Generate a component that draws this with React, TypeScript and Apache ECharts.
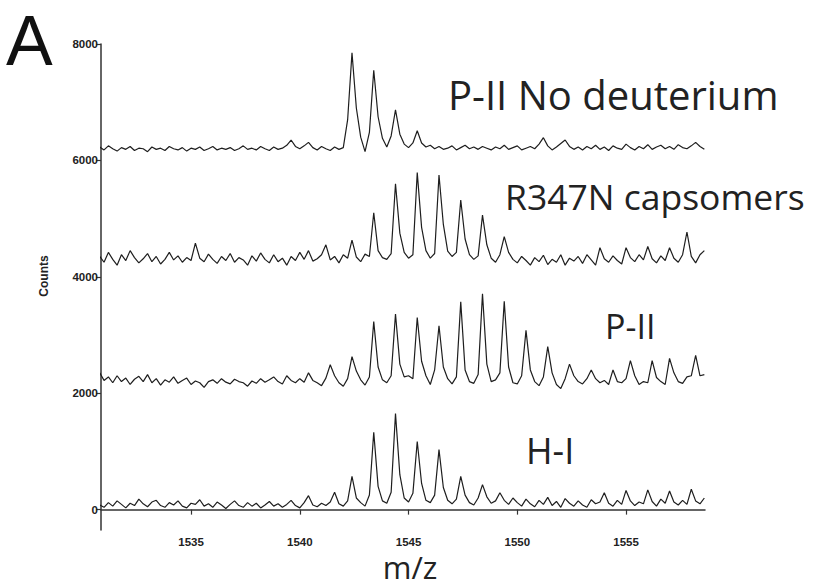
import React, { useEffect, useRef } from "react";
import * as echarts from "echarts";

const MZ_START = 1530.8;
const MZ_STEP = 0.2;

const noDeuterium = [
  6230, 6180, 6250, 6200, 6160, 6220, 6190, 6240, 6170, 6210,
  6200, 6150, 6230, 6190, 6210, 6170, 6240, 6200, 6180, 6220,
  6160, 6210, 6190, 6230, 6170, 6200, 6240, 6180, 6210, 6190,
  6220, 6170, 6200, 6250, 6190, 6210, 6180, 6240, 6200, 6170,
  6230, 6190, 6210, 6260, 6350, 6240, 6200, 6250, 6310, 6220,
  6180, 6240, 6200, 6170, 6230, 6190, 6220, 6700, 7850, 6900,
  6400, 6150, 6480, 7550, 6750, 6380, 6230, 6420, 6870, 6450,
  6280, 6220, 6300, 6510, 6300, 6230, 6260, 6200, 6240, 6190,
  6210, 6250, 6180, 6220, 6260, 6200, 6230, 6190, 6240, 6210,
  6180, 6230, 6200, 6260, 6190, 6220, 6250, 6180, 6210, 6240,
  6200, 6280, 6390, 6250, 6180, 6230, 6290, 6350, 6240, 6190,
  6230, 6180, 6240, 6200, 6260, 6190, 6230, 6170, 6250, 6210,
  6190, 6280, 6220, 6180, 6240, 6200, 6270, 6190, 6230, 6260,
  6200, 6240, 6190, 6270, 6220, 6200, 6250, 6310, 6240, 6190,
];

const r347n = [
  4350, 4250, 4420, 4300, 4200, 4380, 4280, 4450, 4330, 4240,
  4310, 4400, 4260, 4350, 4220, 4300, 4420, 4290, 4360, 4250,
  4330, 4280, 4580, 4320, 4260, 4390, 4300, 4230, 4350, 4280,
  4400, 4250, 4330, 4290, 4200, 4360, 4270, 4410, 4300, 4240,
  4380, 4260, 4320, 4200, 4350, 4280, 4420, 4300, 4450, 4270,
  4310, 4380, 4550, 4290, 4350, 4240, 4380, 4320, 4630, 4340,
  4260, 4390, 4350, 5100, 4450, 4330, 4300, 4400, 5600, 4750,
  4420, 4320, 4380, 5790, 4850, 4450, 4320, 4400, 5750, 4900,
  4440, 4350, 4420, 5320, 4650, 4380, 4300, 4360, 5060, 4550,
  4320, 4250, 4380, 4690, 4420, 4300, 4240, 4350, 4280, 4200,
  4330, 4260, 4370, 4210, 4300, 4250, 4380, 4200, 4320, 4270,
  4350, 4230, 4380, 4290, 4200, 4500, 4310, 4250, 4360, 4280,
  4220, 4500, 4330, 4260, 4380, 4290, 4520, 4310, 4240, 4360,
  4280, 4500, 4320, 4250, 4380, 4770, 4350, 4240, 4380, 4450,
];

const pII = [
  2350, 2220, 2280, 2180, 2300, 2200, 2260, 2150, 2240, 2290,
  2200, 2320, 2180, 2250, 2140, 2230, 2190, 2280, 2170, 2220,
  2260, 2150, 2210, 2180, 2100, 2200, 2230, 2170, 2250, 2190,
  2160, 2240, 2200, 2180, 2120, 2210, 2170, 2250, 2190, 2230,
  2280, 2200, 2160, 2300, 2220, 2180, 2250, 2190, 2350, 2220,
  2180, 2130, 2260, 2490, 2300, 2180, 2120, 2250, 2630, 2380,
  2230, 2140, 2280, 3230, 2450, 2230, 2180, 2300, 3360, 2500,
  2280, 2300, 2250, 3300, 2550, 2300, 2150, 2400, 3160, 2450,
  2250, 2160, 2280, 3570, 2400, 2200, 2170, 2320, 3710, 2500,
  2200, 2230, 2350, 3580, 2450, 2180, 2160, 2300, 3080, 2400,
  2200, 2130, 2280, 2800, 2350, 2150, 2080, 2250, 2500, 2300,
  2200, 2160, 2250, 2400, 2250, 2180, 2220, 2150, 2400, 2200,
  2180, 2250, 2560, 2300, 2150, 2200, 2180, 2560, 2270, 2200,
  2150, 2600, 2350, 2200, 2170, 2280, 2300, 2650, 2300, 2320,
];

const hI = [
  80, 40, 120, 60, 150, 90, 30, 110, 70, 180,
  100, 50, 130, 160, 70, 40, 120, 80, 150, 60,
  30, 110, 90, 170, 60, 100, 40, 130, 80, 20,
  90, 150, 70, 40, 120, 60, 110, 30, 80, 140,
  60, 100, 40, 90, 160, 70, 30, 120, 240, 80,
  50, 110, 70, 130, 300, 100, 60, 150, 570, 200,
  120, 60, 250, 1330, 400, 150, 110, 300, 1650, 600,
  200, 130, 280, 1170, 450, 160, 120, 250, 1030, 380,
  160, 100, 180, 570, 250, 120, 80, 200, 430, 220,
  110, 150, 290, 160, 90, 200, 120, 60, 180, 100,
  50, 160, 90, 210, 70, 140, 40, 190, 110, 60,
  150, 80, 40, 170, 100, 130, 290, 110, 60, 160,
  90, 330, 150, 70, 130, 100, 340, 140, 60, 180,
  110, 320, 130, 80, 160, 90, 350, 150, 100, 200,
];

const xTicks = [1535, 1540, 1545, 1550, 1555];
const yTicks = [0, 2000, 4000, 6000, 8000];

const traceLabels = [
  { text: "P-II No deuterium", x: 448, y: 94, size: 40 },
  { text: "R347N capsomers", x: 505, y: 196, size: 35.5 },
  { text: "P-II", x: 605, y: 326, size: 34 },
  { text: "H-I", x: 526, y: 450, size: 36 },
];

export default function App() {
  const ref = useRef<HTMLDivElement>(null);
  useEffect(() => {
    if (!ref.current) return;
    const chart = echarts.init(ref.current, null, { renderer: "svg" });
    const mz = noDeuterium.map((_, i) => +(MZ_START + i * MZ_STEP).toFixed(1));
    const mk = (arr: number[]) => mz.map((x, i) => [x, arr[i]]);
    const lineStyle = { color: "#1e1e1e", width: 1.2 };
    const axisColor = "#333";
    const labelStyle = {
      fontFamily: "Liberation Sans",
      fontWeight: "bold" as const,
      fontSize: 11.5,
      color: "#222",
      formatter: (v: number) => String(v),
    };
    chart.setOption({
      animation: false,
      backgroundColor: "#fff",
      grid: { left: 101, right: 111, top: 44, bottom: 56 },
      xAxis: {
        type: "value",
        min: 1530.86,
        max: 1558.63,
        axisLine: { show: true, lineStyle: { color: axisColor, width: 1.5 } },
        axisTick: { show: true, customValues: xTicks, length: 5, lineStyle: { color: axisColor, width: 1.2 } },
        axisLabel: { ...labelStyle, customValues: xTicks, margin: 6 },
        splitLine: { show: false },
      },
      yAxis: {
        type: "value",
        min: -350,
        max: 8000,
        axisLine: { show: true, lineStyle: { color: axisColor, width: 1.5 } },
        axisTick: { show: true, customValues: yTicks, length: 5, lineStyle: { color: axisColor, width: 1.2 } },
        axisLabel: { ...labelStyle, customValues: yTicks, margin: 3 },
        splitLine: { show: false },
      },
      series: [noDeuterium, r347n, pII, hI].map((arr) => ({
        type: "line",
        data: mk(arr),
        showSymbol: false,
        symbol: "none",
        lineStyle,
      })),
      graphic: [
        {
          type: "text",
          x: 6,
          y: 41,
          style: { text: "A", font: '70px "Liberation Sans"', fill: "#111", textAlign: "left", textVerticalAlign: "middle" },
        },
        {
          type: "text",
          x: 44,
          y: 276,
          rotation: Math.PI / 2,
          style: { text: "Counts", font: 'bold 12px "Liberation Sans"', fill: "#222", textAlign: "center", textVerticalAlign: "middle" },
        },
        {
          type: "text",
          x: 410,
          y: 567,
          style: { text: "m/z", font: '31px "Open Sans"', lineHeight: 28, fill: "#222", textAlign: "center", textVerticalAlign: "middle" },
        },
        ...traceLabels.map((l) => ({
          type: "text",
          x: l.x,
          y: l.y,
          style: { text: l.text, font: `${l.size}px "Open Sans"`, fill: "#222", textAlign: "left", textVerticalAlign: "middle" },
        })),
      ],
    });
    return () => chart.dispose();
  }, []);
  return <div ref={ref} style={{ position: "fixed", left: 0, top: 0, width: 816, height: 586 }} />;
}
